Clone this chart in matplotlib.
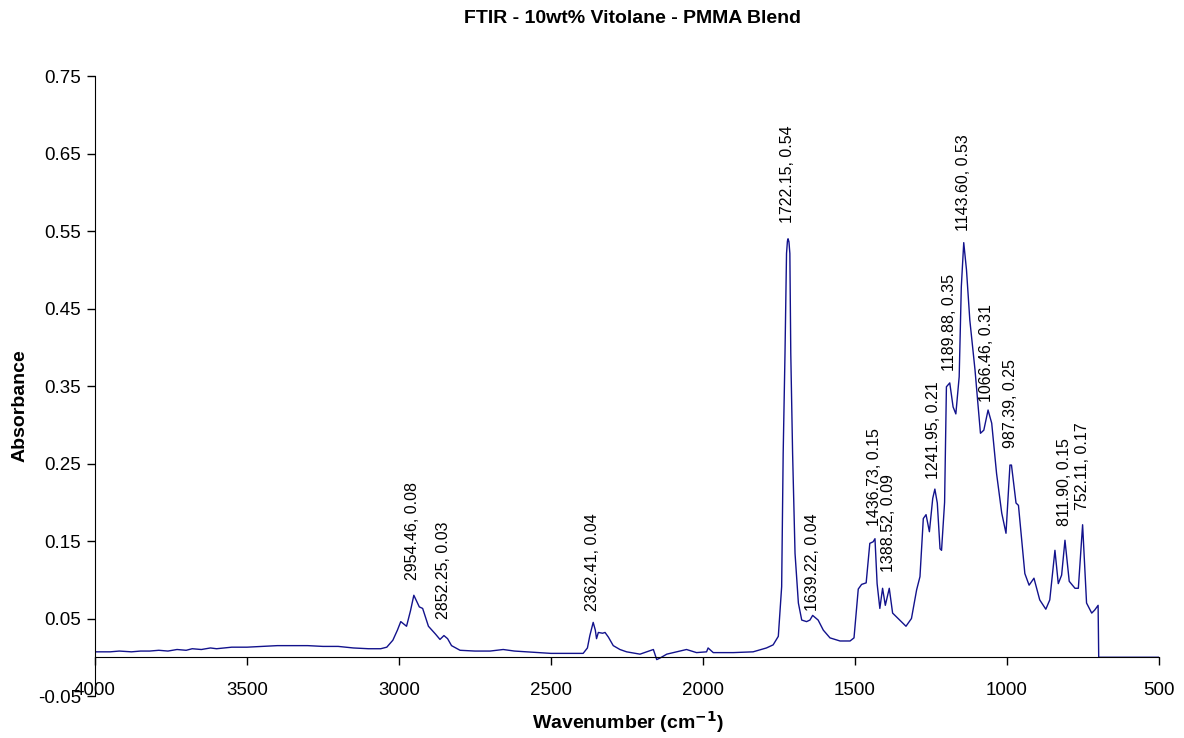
import matplotlib
matplotlib.use("Agg")
import matplotlib.pyplot as plt

plt.rcParams['font.family'] = ['Liberation Sans', 'DejaVu Sans']

# spectrum (wavenumber cm-1, absorbance)
wavenumber = [4000, 3950, 3920, 3880, 3850, 3820, 3790, 3760, 3730, 3700, 3680, 3650,
              3620, 3600, 3550, 3500, 3400, 3300, 3250, 3200, 3150, 3100, 3060,
              3040, 3020, 3005, 2994, 2975, 2962, 2951, 2933, 2922, 2903, 2880, 2865,
              2852, 2840, 2827, 2799, 2750, 2700, 2657, 2620, 2580, 2500, 2394, 2380,
              2372, 2361, 2354, 2350, 2344, 2330, 2322, 2311, 2295, 2273, 2251, 2207,
              2185, 2163, 2152, 2141, 2119, 2087, 2054, 2021, 1988, 1983, 1966, 1900,
              1835, 1791, 1769, 1752, 1741, 1736, 1730, 1725, 1722, 1720, 1717, 1714, 1711, 1705,
              1697, 1686, 1675, 1659, 1648, 1639, 1621, 1604, 1582, 1549, 1516, 1503,
              1489, 1478, 1463, 1451, 1440, 1434, 1427, 1418, 1409, 1400, 1387, 1376,
              1358, 1332, 1314, 1297, 1286, 1275, 1266, 1255, 1244, 1237, 1229, 1220,
              1215, 1205, 1199, 1188, 1177, 1168, 1157, 1150, 1142, 1133, 1122, 1105,
              1087, 1076, 1062, 1050, 1034, 1017, 1003, 990, 985, 970, 962, 941,
              927, 911, 892, 872, 859, 842, 831, 820, 809, 795, 776, 765,
              751, 738, 721, 711, 700, 698, 500]
absorbance = [0.007, 0.007, 0.008, 0.007, 0.008, 0.008, 0.009, 0.008, 0.010, 0.009, 0.011, 0.010,
              0.012, 0.011, 0.013, 0.013, 0.015, 0.015, 0.014, 0.014, 0.012, 0.011, 0.011,
              0.013, 0.022, 0.035, 0.046, 0.040, 0.060, 0.080, 0.065, 0.063, 0.040, 0.030, 0.023,
              0.028, 0.024, 0.015, 0.009, 0.008, 0.008, 0.010, 0.008, 0.007, 0.005, 0.005, 0.012,
              0.028, 0.045, 0.035, 0.024, 0.032, 0.031, 0.032, 0.026, 0.015, 0.010, 0.007, 0.004,
              0.007, 0.010, -0.003, -0.001, 0.004, 0.007, 0.010, 0.006, 0.007, 0.012, 0.006, 0.006,
              0.007, 0.012, 0.016, 0.027, 0.091, 0.263, 0.392, 0.521, 0.537, 0.540, 0.536, 0.521, 0.392, 0.263,
              0.134, 0.070, 0.048, 0.046, 0.048, 0.054, 0.048, 0.035, 0.025, 0.021, 0.021, 0.025,
              0.088, 0.094, 0.096, 0.147, 0.149, 0.153, 0.095, 0.063, 0.089, 0.067, 0.089, 0.057,
              0.050, 0.040, 0.050, 0.087, 0.104, 0.179, 0.184, 0.162, 0.205, 0.217, 0.199, 0.140,
              0.138, 0.200, 0.349, 0.354, 0.323, 0.314, 0.362, 0.478, 0.535, 0.500, 0.435, 0.371,
              0.289, 0.293, 0.319, 0.302, 0.237, 0.186, 0.160, 0.248, 0.248, 0.199, 0.196, 0.108,
              0.093, 0.102, 0.074, 0.062, 0.074, 0.138, 0.095, 0.106, 0.151, 0.098, 0.089, 0.089,
              0.171, 0.070, 0.057, 0.061, 0.067, 0.0, 0.0]

# labelled peaks
peak_wn = [2954.46, 2852.25, 2362.41, 1722.15, 1639.22, 1436.73, 1388.52,
           1241.95, 1189.88, 1143.60, 1066.46, 987.39, 811.90, 752.11]
peak_abs = [0.08, 0.03, 0.04, 0.54, 0.04, 0.15, 0.09,
            0.21, 0.35, 0.53, 0.31, 0.25, 0.15, 0.17]

yticks = [-0.05, 0.05, 0.15, 0.25, 0.35, 0.45, 0.55, 0.65, 0.75]
xticks = [4000, 3500, 3000, 2500, 2000, 1500, 1000, 500]

fig = plt.figure(figsize=(11.84, 7.38), dpi=100)
ax = fig.add_axes([0.0802, 0.0569, 0.8986, 0.8401])

ax.plot(wavenumber, absorbance, color='#12128c', lw=1.0)

for w, a in zip(peak_wn, peak_abs):
    ax.annotate(f"{w:.2f}, {a:.2f}", xy=(w, a), xytext=(0, 11),
                textcoords='offset points', rotation=90, ha='center', va='bottom',
                fontsize=11.5)

ax.set_xlim(4000, 500)
ax.set_ylim(-0.05, 0.75)
ax.set_xticks(xticks)
ax.set_yticks(yticks)
ax.set_yticklabels([f"{t:.2f}" for t in yticks])

ax.spines['top'].set_visible(False)
ax.spines['right'].set_visible(False)
ax.spines['bottom'].set_position(('data', 0))
ax.tick_params(axis='both', direction='out', length=6, width=1, labelsize=13.5, pad=4)
ax.tick_params(axis='x', pad=12)

fig.text(0.534, 0.975, "FTIR - 10wt% Vitolane - PMMA Blend", ha='center', va='center',
         fontsize=14, fontweight='bold')
fig.text(0.53, 0.021, r"Wavenumber (cm$^{\mathbf{-1}}$)", ha='center', va='center',
         fontsize=14, fontweight='bold')
fig.text(0.017, 0.45, "Absorbance", ha='center', va='center', rotation=90,
         fontsize=14, fontweight='bold')

fig.savefig("out.png", dpi=100)
